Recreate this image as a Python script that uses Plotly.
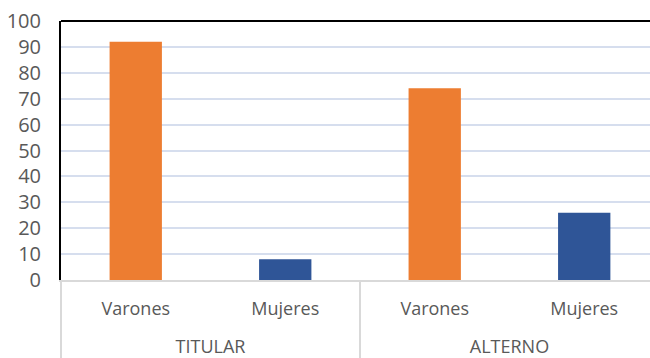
import plotly.graph_objects as go

groups = ["TITULAR", "TITULAR", "ALTERNO", "ALTERNO"]
sexes = ["Varones", "Mujeres", "Varones", "Mujeres"]
values = [92, 8, 74, 26]
colors = ["#ED7D31", "#2F5597", "#ED7D31", "#2F5597"]
y_ticks = list(range(0, 101, 10))

# outer labels pushed one line lower (as in the reference's wider label rows)
group_labels = ["<br>" + g for g in groups]

fig = go.Figure(go.Bar(
    x=[group_labels, sexes], y=values, marker=dict(color=colors, line=dict(width=0)),
    width=0.35,
))

fig.update_layout(
    width=650, height=358,
    margin=dict(l=61, r=0, t=21, b=78),
    plot_bgcolor="white", paper_bgcolor="white",
    showlegend=False,
    font=dict(family="Open Sans", size=18, color="#595959"),
)
fig.update_xaxes(
    type="multicategory",
    range=[-0.5, 3.44],
    automargin=False,
    showline=True, linecolor="#D9D9D9", linewidth=1.5,
    showdividers=True, dividercolor="#D9D9D9", dividerwidth=1.5,
    tickfont=dict(size=18, color="#595959"),
    ticks="", ticklabelstandoff=12,
)
fig.update_yaxes(
    range=[0, 100.01], tickvals=y_ticks,
    automargin=False, ticklabeloverflow="allow",
    showline=True, linecolor="black", linewidth=2,
    showgrid=True, gridcolor="#D6DEEE", gridwidth=2,
    tickfont=dict(size=20, color="#595959"),
    ticks="", ticklabelstandoff=14,
    zeroline=False,
)
fig.add_shape(type="line", xref="paper", yref="paper", x0=0, x1=1, y0=1, y1=1,
              line=dict(color="black", width=2))

fig.write_html(
    "out.html",
    config={"displayModeBar": False},
    post_script="document.body.style.margin='0';document.body.style.overflow='hidden';",
)
